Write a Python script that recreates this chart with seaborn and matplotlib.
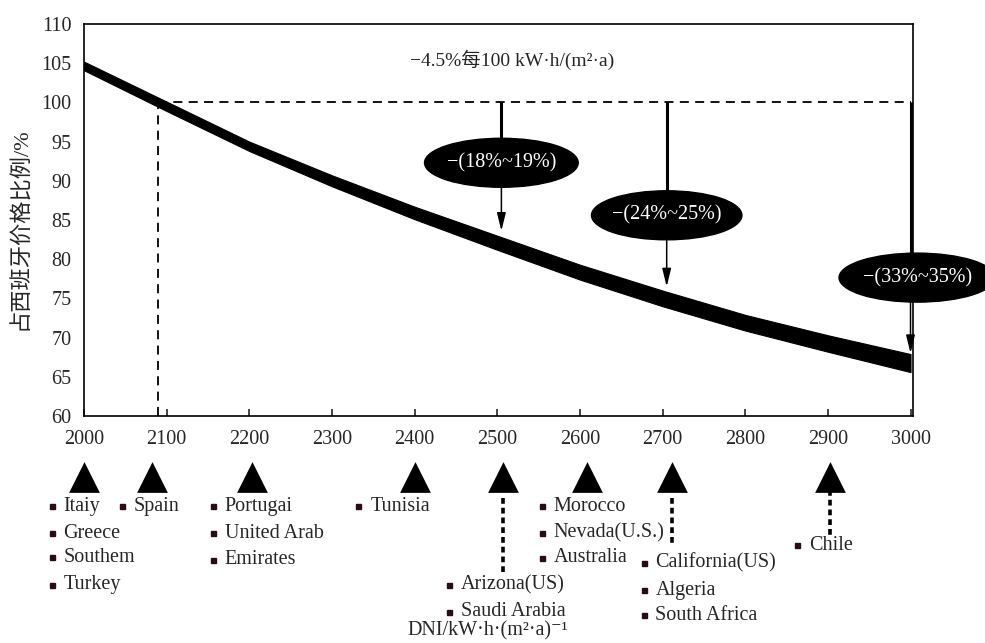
import matplotlib
matplotlib.use("Agg")
import matplotlib.pyplot as plt
from matplotlib.patches import Ellipse
import seaborn as sns
import pandas as pd
import numpy as np

# ---------------- data ----------------
dni = [2000, 2100, 2200, 2300, 2400, 2500, 2600, 2700, 2800, 2900, 3000]
price_upper = [105.2, 100.1, 95.0, 90.7, 86.7, 83.0, 79.3, 76.0, 72.9, 70.3, 67.9]
price_lower = [104.1, 98.9, 93.8, 89.3, 85.1, 81.2, 77.4, 74.0, 70.9, 68.2, 65.6]

break_even_dni = 2090
break_even_price = 100

reduction_dni = [2505, 2705, 3000]
reduction_labels = ["\u2212(18%~19%)", "\u2212(24%~25%)", "\u2212(33%~35%)"]
reduction_tip = [83.6, 76.5, 68.0]

top_note = "\u22124.5%每100 kW\u00b7h/(m\u00b2\u00b7a)"
ylabel = "占西班牙价格比例/%"
xlabel = "DNI/kW\u00b7h\u00b7(m\u00b2\u00b7a)\u207b\u00b9"

xticks = list(range(2000, 3001, 100))
yticks = list(range(60, 111, 5))

site_dni = [2000, 2082, 2203, 2401, 2507, 2609, 2711, 2903]
groups = [
    (1961, ["Itaiy", "Greece", "Southem", "Turkey"], [506, 533, 557, 585]),
    (2046, ["Spain"], [506]),
    (2156, ["Portugai", "United Arab", "Emirates"], [506, 533, 560]),
    (2332, ["Tunisia"], [506]),
    (2554, ["Morocco", "Nevada(U.S.)", "Australia"], [506, 533, 558]),
    (2442, ["Arizona(US)", "Saudi Arabia"], [585, 612]),
    (2677, ["California(US)", "Algeria", "South Africa"], [563, 590, 615]),
    (2863, ["Chile"], [545]),
]
connectors = [(2507, 498, 572), (2711, 498, 545), (2903, 490, 535)]

# ---------------- style ----------------
sns.set_theme(style="white")
SERIF = ["Liberation Serif", "Noto Sans CJK SC", "DejaVu Serif"]
plt.rcParams["font.family"] = SERIF
plt.rcParams["axes.unicode_minus"] = True

W, H = 985, 643
fig = plt.figure(figsize=(W / 100, H / 100), dpi=100)
fig.patch.set_facecolor("white")

XMIN, XMAX = 2000, 3003
ax = fig.add_axes([84 / W, (H - 416) / H, (913 - 84) / W, (416 - 24) / H])

df = pd.DataFrame({
    "dni": dni * 2,
    "price": price_upper + price_lower,
})
sns.lineplot(data=df, x="dni", y="price", estimator="mean",
             errorbar=("pi", 100), color="black", lw=0.8,
             err_kws={"alpha": 1.0, "linewidth": 0.8, "edgecolor": "black"},
             ax=ax)

ax.set_xlim(XMIN, XMAX)
ax.set_ylim(60, 110)
ax.set_xticks(xticks)
ax.set_yticks(yticks)
ax.set_xticklabels([str(t) for t in xticks], fontsize=14.5)
ax.set_yticklabels([str(t) for t in yticks], fontsize=14.5)
ax.tick_params(axis="x", direction="in", length=5, width=1.2, pad=10, bottom=True)
ax.tick_params(axis="y", length=0, pad=9)
ax.set_xlabel("")
ax.set_ylabel("")
for s in ax.spines.values():
    s.set_color("black")
    s.set_linewidth(1.2)

# dashed reference lines
dash = (0, (5, 3.5))
ax.plot([break_even_dni, 3000], [break_even_price, break_even_price],
        color="black", lw=1.3, ls=dash)
ax.plot([break_even_dni, break_even_dni], [60, break_even_price],
        color="black", lw=1.3, ls=dash)

# reduction callouts
ell_cx = [2505, 2705, 3008]
ell_cy = [92.3, 85.6, 77.65]
ell_w = [186, 182, 189]
ell_h = 6.25
for i, x0 in enumerate(reduction_dni):
    top = ell_cy[i] + ell_h / 2
    bot = ell_cy[i] - ell_h / 2
    ax.plot([x0, x0], [break_even_price, top], color="black", lw=2.2,
            solid_capstyle="butt", clip_on=False)
    e = Ellipse((ell_cx[i], ell_cy[i]), ell_w[i], ell_h, facecolor="black",
                edgecolor="black", clip_on=False, zorder=5)
    ax.add_patch(e)
    ax.text(ell_cx[i], ell_cy[i], reduction_labels[i], color="white",
            fontsize=14.5, ha="center", va="center", zorder=6, clip_on=False)
    ax.annotate("", xy=(x0, reduction_tip[i]), xytext=(x0, bot),
                arrowprops=dict(arrowstyle="-|>,head_width=0.22,head_length=0.9",
                                color="black", lw=1.1, shrinkA=0, shrinkB=0),
                zorder=4)

ax.text(2518, 105.4, top_note, fontsize=14, ha="center", va="center")

fig.text(21 / W, 1 - 229 / H, ylabel, rotation=90, ha="center", va="center",
         fontsize=16)

# ---------------- lower strip: sites ----------------
ax2 = fig.add_axes([84 / W, 0, (913 - 84) / W, 223 / H], sharex=ax)
ax2.set_ylim(643, 420)
ax2.axis("off")
ax.set_xlim(XMIN, XMAX)

sns.scatterplot(x=site_dni, y=[477] * len(site_dni), marker="^", s=490,
                color="black", edgecolor="black", linewidth=0, ax=ax2,
                clip_on=False, legend=False)

for xc, y0, y1 in connectors:
    ax2.plot([xc, xc], [y0, y1], color="black", lw=2.6, ls=(0, (1.6, 1.1)),
             clip_on=False)

for xb, names, ys in groups:
    for name, yy in zip(names, ys):
        ax2.plot([xb], [yy], marker="s", ms=3.6, color="#2a0c14",
                 clip_on=False, lw=0)
        ax2.annotate(name, (xb, yy), xytext=(8.5, 0),
                     textcoords="offset points", fontsize=14.5,
                     ha="left", va="center", annotation_clip=False)

ax2.text(2489, 631, xlabel, fontsize=14.5, ha="center", va="center",
         clip_on=False)

fig.savefig("out.png", dpi=100, facecolor="white")
